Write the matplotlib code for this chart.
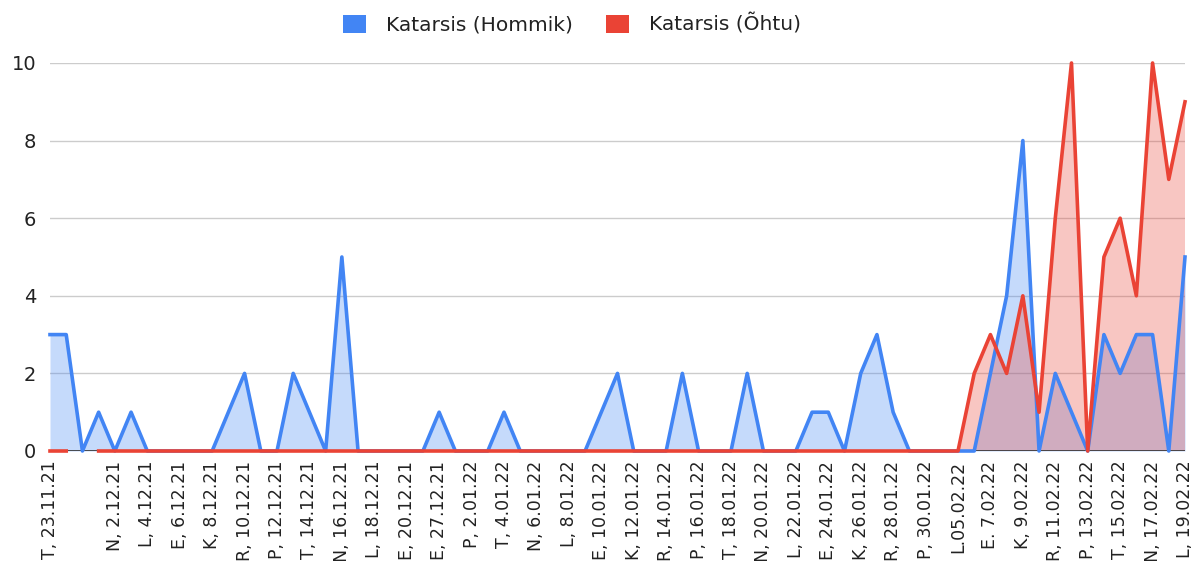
import numpy as np
import matplotlib.pyplot as plt
from matplotlib.patches import Patch

plt.rcParams['font.family'] = ['DejaVu Sans']

categories = [
    'T, 23.11.21', 'K, 24.11.21', '', 'K, 1.12.21', 'N, 2.12.21', 'R, 3.12.21',
    'L, 4.12.21', 'P, 5.12.21', 'E, 6.12.21', 'T, 7.12.21', 'K, 8.12.21',
    'N, 9.12.21', 'R, 10.12.21', 'L, 11.12.21', 'P, 12.12.21', 'E, 13.12.21',
    'T, 14.12.21', 'K, 15.12.21', 'N, 16.12.21', 'R, 17.12.21', 'L, 18.12.21',
    'P, 19.12.21', 'E, 20.12.21', 'T, 21.12.21', 'E, 27.12.21', 'T, 28.12.21',
    'P, 2.01.22', 'E, 3.01.22', 'T, 4.01.22', 'K, 5.01.22', 'N, 6.01.22',
    'R, 7.01.22', 'L, 8.01.22', 'P, 9.01.22', 'E, 10.01.22', 'T, 11.01.22',
    'K, 12.01.22', 'N, 13.01.22', 'R, 14.01.22', 'L, 15.01.22', 'P, 16.01.22',
    'E, 17.01.22', 'T, 18.01.22', 'K, 19.01.22', 'N, 20.01.22', 'R, 21.01.22',
    'L, 22.01.22', 'P, 23.01.22', 'E, 24.01.22', 'T, 25.01.22', 'K, 26.01.22',
    'N, 27.01.22', 'R, 28.01.22', 'L, 29.01.22', 'P, 30.01.22', 'E, 31.01.22',
    'L.05.02.22', 'P, 6.02.22', 'E. 7.02.22', 'T, 8.02.22', 'K, 9.02.22',
    'N, 10.02.22', 'R, 11.02.22', 'L, 12.02.22', 'P, 13.02.22', 'E, 14.02.22',
    'T, 15.02.22', 'K, 16.02.22', 'N, 17.02.22', 'R, 18.02.22', 'L, 19.02.22',
]

hommik = [3, 3, 0, 1, 0, 1, 0, 0, 0, 0, 0, 1, 2, 0, 0, 2, 1, 0, 5, 0,
          0, 0, 0, 0, 1, 0, 0, 0, 1, 0, 0, 0, 0, 0, 1, 2, 0, 0, 0, 2,
          0, 0, 0, 2, 0, 0, 0, 1, 1, 0, 2, 3, 1, 0, 0, 0, 0, 0, 2, 4,
          8, 0, 2, 1, 0, 3, 2, 3, 3, 0, 5]

ohtu = [0, 0, np.nan] + [0] * 54 + [2, 3, 2, 4, 1, 6, 10, 0, 5, 6, 4, 10, 7, 9]

blue = '#4285F4'
red = '#EA4335'

x = np.arange(len(categories))
h = np.array(hommik, dtype=float)
o = np.array(ohtu, dtype=float)

fig = plt.figure(figsize=(11.97, 5.61), dpi=100)
ax = fig.add_axes([50 / 1197, 1 - 451 / 561, 1135 / 1197, 388 / 561])

ax.fill_between(x, h, 0, color=blue, alpha=0.3, lw=0)
ax.fill_between(x, o, 0, color=red, alpha=0.3, lw=0)
ax.axhline(0, color='#333333', lw=1.2, zorder=1)
ax.plot(x, h, color=blue, lw=2.6, clip_on=False, zorder=3)
ax.plot(x, o, color=red, lw=2.6, clip_on=False, zorder=4)

ax.set_xlim(0, len(categories) - 1)
ax.set_ylim(0, 10)
ax.set_yticks(range(0, 11, 2))
ax.grid(axis='y', color='#cccccc', lw=1)
ax.set_axisbelow(True)
for s in ax.spines.values():
    s.set_visible(False)

ax.set_xticks(x[::2])
ax.set_xticklabels(categories[::2], rotation=90, va='top', ha='center',
                   fontsize=12.5, color='#222222')
ax.tick_params(axis='x', length=0, pad=7)
ax.tick_params(axis='y', length=0, pad=10, labelsize=14, labelcolor='#222222')

handles = [Patch(facecolor=blue, edgecolor='none', label='Katarsis (Hommik)'),
           Patch(facecolor=red, edgecolor='none', label='Katarsis (Õhtu)')]
fig.legend(handles=handles, loc='center', bbox_to_anchor=(572 / 1197, 1 - 24 / 561),
           ncol=2, frameon=False, fontsize=14.5, handlelength=1.15, handleheight=1.0,
           columnspacing=1.6, handletextpad=1.0, labelcolor='#222222')

fig.savefig('out.png', dpi=100)
